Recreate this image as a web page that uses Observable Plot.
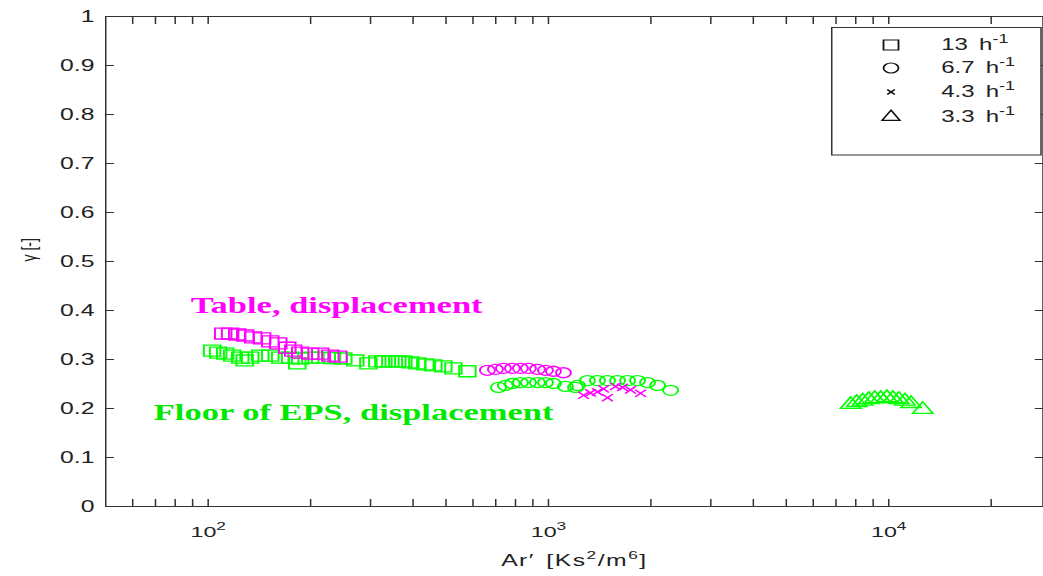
<!DOCTYPE html>
<html><head><meta charset="utf-8">
<script src="https://cdn.jsdelivr.net/npm/d3@7"></script>
<script src="https://cdn.jsdelivr.net/npm/@observablehq/plot@0.6"></script>
<style>
html,body{margin:0;padding:0;background:#fff;}
#chart{width:1043px;height:576px;overflow:hidden;}
</style></head><body><div id="chart"></div>
<script>
// ---- data ----
const tableSqAr    = [110.7,116,121.7,128.5,135.6,144.1,152.2,160.7,170.8,177.8,186.4,199.5,213.5,228.5,241.3];
const tableSqGamma = [0.353,0.353,0.351,0.349,0.345,0.343,0.337,0.333,0.324,0.318,0.314,0.312,0.312,0.308,0.306];
const floorSqAr    = [102.7,107,112.2,117.6,124.2,128,132.9,142.2,152.2,162.8,174.2,182.7,186.4,199.5,213.5,230.9,249.5,270.6,295.6,314.1,327.2,343,359.6,374.6,392.8,411.9,434.7,459,491,525.5,577.8];
const floorSqGamma = [0.318,0.314,0.312,0.308,0.304,0.298,0.304,0.308,0.308,0.304,0.304,0.292,0.302,0.304,0.304,0.303,0.302,0.298,0.292,0.296,0.296,0.296,0.296,0.296,0.294,0.292,0.290,0.288,0.286,0.282,0.276];
const tableCircAr    = [661.6,698.6,737.4,783.6,827.3,873.3,928.3,979.9,1034.4,1106.7];
const tableCircGamma = [0.278,0.280,0.282,0.282,0.282,0.282,0.280,0.278,0.276,0.273];
const floorCircAr    = [712.9,747.3,783.6,827.3,873.3,928.3,979.9,1034,1122,1201,1217,1302,1393,1491,1596,1708,1827,1955,2093,2285];
const floorCircGamma = [0.243,0.247,0.251,0.253,0.253,0.253,0.253,0.251,0.245,0.243,0.247,0.257,0.257,0.257,0.257,0.257,0.257,0.253,0.247,0.237];
const tableCrossAr    = [1268,1329,1393,1452,1491,1574,1651,1742,1865];
const tableCrossGamma = [0.227,0.232,0.234,0.240,0.222,0.245,0.243,0.238,0.231];
const floorTriAr    = [7727,8050,8385,8736,9100,9480,9875,10286,10715,11160,11625,12589];
const floorTriGamma = [0.208,0.212,0.215,0.218,0.220,0.220,0.222,0.220,0.218,0.215,0.210,0.198];

const xDomain = [50, 28400];
const xMajorTicks = [100, 1000, 10000];
const xMajorLabels = ["10^2", "10^3", "10^4"];
const xMinorTicks = [60,70,80,90,200,300,400,500,600,700,800,900,2000,3000,4000,5000,6000,7000,8000,9000,20000];
const yTicks = [0,0.1,0.2,0.3,0.4,0.5,0.6,0.7,0.8,0.9,1];
const legendRates = ["13", "6.7", "4.3", "3.3"];
const annotations = [
  {text: "Table, displacement", ar: 88.9, gamma: 0.409, color: "#ff00ff"},
  {text: "Floor of EPS, displacement", ar: 69.2, gamma: 0.1906, color: "#00e800"}
];
const xLabel = "Ar′ [Ks^2/m^6]";
const yLabel = "γ [-]";

const MAGENTA = "#ff00ff", GREEN = "#00ff00";

// custom symbol
const symTimes = {draw(ctx, size){ const r = Math.sqrt(size/Math.PI); ctx.moveTo(-r,-r); ctx.lineTo(r,r); ctx.moveTo(-r,r); ctx.lineTo(r,-r);} };

const zip = (xs, ys) => xs.map((x, i) => ({ar: x, gamma: ys[i]}));

// ---- layout: drawn narrow, then stretched horizontally like the reference ----
const W = 1043, H = 576, S = 1.5, Wi = W / S;
const allXTicks = [...xMajorTicks, ...xMinorTicks];
const xFmt = d => { const i = xMajorTicks.indexOf(d); return i >= 0 ? xMajorLabels[i] : ""; };
const yFmt = d => String(+d.toFixed(1));

const chart = Plot.plot({
  width: Wi, height: H,
  marginLeft: 70, marginRight: 0.5, marginTop: 16, marginBottom: 70,
  style: {fontFamily: "'Liberation Sans', Arial, sans-serif", fontSize: "15px", color: "#222", background: "#fff"},
  x: {type: "log", domain: xDomain, label: null},
  y: {domain: [0, 1], label: null},
  marks: [
    Plot.frame({stroke: "#333", strokeWidth: 1}),
    Plot.axisX({anchor: "bottom", ticks: allXTicks, tickSize: -7, tickPadding: 26.5, tickFormat: xFmt, fontSize: 15.5, color: "#222", stroke: "#333", label: null}),
    Plot.axisX({anchor: "top", ticks: allXTicks, tickSize: -7, tickFormat: () => "", stroke: "#333", label: null}),
    Plot.axisY({anchor: "left", ticks: yTicks, tickSize: -6, tickPadding: 13.5, tickFormat: yFmt, fontSize: 16.5, color: "#222", stroke: "#333", label: null}),
    Plot.axisY({anchor: "right", ticks: yTicks, tickSize: -6, tickFormat: () => "", stroke: "#333", label: null}),
    Plot.dot(zip(floorSqAr, floorSqGamma), {x: "ar", y: "gamma", symbol: "square", r: 6.2, stroke: GREEN, strokeWidth: 1.3}),
    Plot.dot(zip(tableSqAr, tableSqGamma), {x: "ar", y: "gamma", symbol: "square", r: 6.2, stroke: MAGENTA, strokeWidth: 1.3}),
    Plot.dot(zip(tableCircAr, tableCircGamma), {x: "ar", y: "gamma", symbol: "circle", r: 5, stroke: MAGENTA, strokeWidth: 1.3}),
    Plot.dot(zip(floorCircAr, floorCircGamma), {x: "ar", y: "gamma", symbol: "circle", r: 5, stroke: GREEN, strokeWidth: 1.3}),
    Plot.dot(zip(tableCrossAr, tableCrossGamma), {x: "ar", y: "gamma", symbol: symTimes, r: 3.6, stroke: MAGENTA, strokeWidth: 1.3}),
    Plot.dot(zip(floorTriAr, floorTriGamma), {x: "ar", y: "gamma", symbol: "triangle", r: 5, stroke: GREEN, strokeWidth: 1.3}),
    Plot.text(annotations, {x: "ar", y: "gamma", text: "text", fill: "color", textAnchor: "start", fontFamily: "'Liberation Serif', 'Times New Roman', serif", fontWeight: "bold", fontSize: 23}),
    Plot.text([xLabel], {frameAnchor: "bottom", dy: 59, fontSize: 16.5, fill: "#222"}),
    Plot.text([yLabel], {frameAnchor: "left", dx: -51, rotate: -90, fontSize: 14, fill: "#222"})
  ]
});

// ---- turn "^x" into raised tspans ----
function superscriptify(el, str, supSize, rise) {
  el.textContent = "";
  const parts = str.split(/\^(\S)/);
  let raised = false;
  parts.forEach((p, i) => {
    if (!p) return;
    const ts = document.createElementNS("http://www.w3.org/2000/svg", "tspan");
    if (i % 2 === 1) {
      ts.setAttribute("font-size", supSize);
      ts.setAttribute("dy", -rise);
      raised = true;
    } else if (raised) {
      ts.setAttribute("dy", rise);
      raised = false;
    }
    ts.textContent = p;
    el.appendChild(ts);
  });
}
const svg = d3.select(chart);
svg.selectAll("text").each(function() {
  const s = this.textContent;
  if (s.startsWith("Ar")) { this.setAttribute("letter-spacing", 1); this.setAttribute("word-spacing", 2); }
  if (s.includes("^")) superscriptify(this, s, 11.5, 7);
});

// ---- legend box ----
const lg = svg.append("g").attr("font-family", "'Liberation Sans', Arial, sans-serif").attr("fill", "#222");
const lx = 554.5, ly = 27.5, lw = 139.5, lh = 127.5;
lg.append("rect").attr("x", lx).attr("y", ly).attr("width", lw).attr("height", lh).attr("fill", "#fff").attr("stroke", "#333");
const legendSymbols = [[d3.symbolSquare, 100], [d3.symbolCircle, 78], [symTimes, 20], [d3.symbolTriangle, 62]];
const rowY = [45, 68, 92, 117];
legendRates.forEach((rate, i) => {
  lg.append("path").attr("transform", `translate(594,${rowY[i]})`)
    .attr("d", d3.symbol(legendSymbols[i][0], legendSymbols[i][1])())
    .attr("fill", "none").attr("stroke", "#111").attr("stroke-width", 1.2);
  const t = lg.append("text").attr("x", 627.5).attr("y", rowY[i] + 5.5)
    .attr("font-size", 16).attr("text-anchor", "start").attr("word-spacing", 3);
  t.append("tspan").text(rate + " h");
  t.append("tspan").attr("font-size", 12).attr("dy", -7).text("-1");
});

chart.setAttribute("viewBox", `0 0 ${Wi} ${H}`);
chart.setAttribute("preserveAspectRatio", "none");
chart.setAttribute("width", W);
chart.setAttribute("height", H);
chart.style.width = W + "px";
chart.style.height = H + "px";
chart.style.maxWidth = "none";
document.getElementById("chart").appendChild(chart);
</script>
</body></html>
